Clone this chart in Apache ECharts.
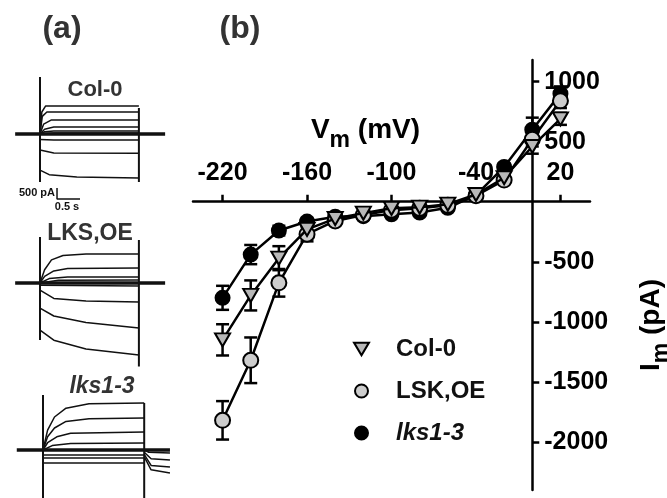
<!DOCTYPE html>
<html><head><meta charset="utf-8">
<script src="https://cdn.jsdelivr.net/npm/echarts@6/dist/echarts.min.js"></script>
<style>html,body{margin:0;padding:0;background:#fff}#c{width:667px;height:498px}</style>
</head><body><div id="c"></div>
<script>
// ---------- panel (b): I-V data ----------
const voltages = [-220,-200,-180,-160,-140,-120,-100,-80,-60,-40,-20,0,20];
const col0 =    [-1150,-780,-470,-230,-140,-95,-55,-45,-20,60,200,460,690];
const col0Err = [130,125,100,60,50,20,20,20,20,20,30,60,50];
const lskOE =   [-1820,-1320,-675,-270,-160,-110,-70,-55,-30,50,180,520,840];
const lskOEErr =[160,190,115,60,30,20,20,20,20,20,30,60,60];
const lks13 =   [-800,-440,-240,-165,-125,-120,-105,-90,-50,55,290,600,900];
const lks13Err =[100,80,40,30,20,20,20,20,20,20,30,100,60];
const xTicks = [-220,-160,-100,-40,20];
const yTicks = [-2000,-1500,-1000,-500,500,1000];

// ---------- panel (a): current traces [time s, current pA] ----------
const col0Traces = [
  [[0,0],[0.04,1000],[0.12,1270],[2.15,1270]],
  [[0,0],[0.05,800],[0.15,1000],[2.15,1000]],
  [[0,0],[0.08,450],[0.25,640],[2.15,640]],
  [[0,0],[0.1,220],[0.3,320],[2.15,320]],
  [[0,0],[0.1,100],[0.3,136],[2.15,136]],
  [[0,0],[0.3,45],[2.15,45]],
  [[0,-250],[0.3,-270],[2.15,-270]],
  [[0,-730],[0.3,-860],[2.15,-880]],
  [[0,-1640],[0.2,-1850],[0.8,-1950],[2.15,-2000]]
];
const col0Artifacts = [[[0,2590],[0,-2180]],[[2.15,1180],[2.15,-2180]]];
const col0Baseline = [[-0.54,0],[2.72,0]];
const scaleBar = [[0.37,-2455],[0.37,-2955],[0.87,-2955]];

const lskOETraces = [
  [[0,0],[0.1,600],[0.25,1050],[0.5,1250],[1.0,1320],[2.15,1320]],
  [[0,0],[0.1,300],[0.3,550],[0.6,660],[2.15,680]],
  [[0,0],[0.2,200],[0.6,270],[2.15,270]],
  [[0,0],[0.4,120],[2.15,136]],
  [[0,-100],[2.15,-136]],
  [[0,-320],[0.3,-700],[1.0,-820],[2.15,-860]],
  [[0,-1140],[0.3,-1500],[1.0,-1800],[2.15,-2045]],
  [[0,-2140],[0.3,-2600],[1.0,-3000],[2.15,-3270]]
];
const lskOEArtifacts = [[[0,2090],[0,-2590]],[[2.15,1950],[2.15,-3800]]];
const lskOEBaseline = [[-0.54,0],[2.72,0]];

const lks13Traces = [
  [[0,0],[0.1,900],[0.25,1500],[0.5,1900],[1.0,2100],[2.2,2140]],
  [[0,0],[0.1,600],[0.25,1000],[0.5,1300],[1.0,1420],[2.2,1450]],
  [[0,0],[0.1,330],[0.3,600],[0.6,760],[2.2,820]],
  [[0,0],[0.2,200],[0.6,300],[2.2,320]],
  [[0,-230],[2.2,-230]],
  [[0,-360],[2.2,-360]],
  [[0,-590],[2.2,-590]],
  [[2.2,0],[2.3,-100],[2.76,-140]],
  [[2.2,-100],[2.35,-400],[2.76,-450]],
  [[2.2,-200],[2.35,-700],[2.76,-770]],
  [[2.2,-300],[2.35,-900],[2.76,-1050]]
];
const lks13Artifacts = [[[0,2500],[0,-2180]],[[2.2,2140],[2.2,-2180]]];
const lks13Baseline = [[-0.57,0],[2.76,0]];

// ---------- layout ----------
const FONT = "'Liberation Sans', Arial, sans-serif";
const PX_S = 46, PX_PA = 0.022;
const subs = [
  {x0:40, y0:134, tMin:-0.65, tMax:2.9, iMin:-3100, iMax:2700, traces:col0Traces, art:col0Artifacts, base:col0Baseline, extra:scaleBar},
  {x0:40, y0:283, tMin:-0.65, tMax:2.9, iMin:-3900, iMax:2200, traces:lskOETraces, art:lskOEArtifacts, base:lskOEBaseline},
  {x0:43, y0:450, tMin:-0.65, tMax:2.9, iMin:-2300, iMax:2600, traces:lks13Traces, art:lks13Artifacts, base:lks13Baseline}
];

const G = {left:193, top:60, width:397, height:430};
const X_MIN = -241, X_MAX = 41, Y_MIN = -2400, Y_MAX = 1180;
const xZeroOffset = -(Y_MAX / (Y_MAX - Y_MIN)) * G.height;
const yZeroOffset = -(X_MAX / (X_MAX - X_MIN)) * G.width;

const grids = [Object.assign({outerBoundsMode:'none', containLabel:false}, G)];
const xAxes = [{
  gridIndex:0, type:'value', min:X_MIN, max:X_MAX, position:'top', offset:xZeroOffset,
  axisLine:{onZero:false, lineStyle:{color:'#000', width:2.5}},
  axisTick:{customValues:xTicks, length:7, lineStyle:{color:'#000', width:2.5}},
  axisLabel:{customValues:xTicks, margin:16, fontSize:25, fontWeight:'bold', color:'#000', fontFamily:FONT,
             formatter:v=>String(v)},
  splitLine:{show:false},
  name:'{v|V}{s|m}{v| (mV)}', nameLocation:'middle', nameGap:50,
  nameTextStyle:{padding:[0,52,0,0], rich:{
    v:{fontSize:28, fontWeight:'bold', color:'#000', fontFamily:FONT},
    s:{fontSize:23, fontWeight:'bold', color:'#000', fontFamily:FONT, padding:[20,0,0,0]}}}
}];
const yAxes = [{
  gridIndex:0, type:'value', min:Y_MIN, max:Y_MAX, position:'right', offset:yZeroOffset,
  axisLine:{onZero:false, lineStyle:{color:'#000', width:2.5}},
  axisTick:{customValues:yTicks, length:7, lineStyle:{color:'#000', width:2.5}},
  axisLabel:{customValues:yTicks, margin:12, fontSize:25, fontWeight:'bold', color:'#000', fontFamily:FONT,
             formatter:v=>String(v)},
  splitLine:{show:false},
  name:'{v|I}{s|m}{v| (pA)}', nameLocation:'middle', nameGap:98, nameRotate:90,
  nameTextStyle:{padding:[0,100,0,0], rich:{
    v:{fontSize:28, fontWeight:'bold', color:'#000', fontFamily:FONT},
    s:{fontSize:23, fontWeight:'bold', color:'#000', fontFamily:FONT, padding:[20,0,0,0]}}}
}];

const series = [];
subs.forEach((s, k) => {
  const gi = k + 1;
  grids.push({left:s.x0 + s.tMin*PX_S, width:(s.tMax - s.tMin)*PX_S,
              top:s.y0 - s.iMax*PX_PA, height:(s.iMax - s.iMin)*PX_PA,
              outerBoundsMode:'none', containLabel:false});
  xAxes.push({gridIndex:gi, type:'value', min:s.tMin, max:s.tMax, show:false});
  yAxes.push({gridIndex:gi, type:'value', min:s.iMin, max:s.iMax, show:false});
  const ln = (data, w) => ({type:'line', xAxisIndex:gi, yAxisIndex:gi, data, showSymbol:false,
    symbol:'none', lineStyle:{color:'#111', width:w}, silent:true, z:2});
  s.traces.forEach(t => series.push(ln(t, 1.5)));
  s.art.forEach(t => series.push(ln(t, 2)));
  series.push(ln(s.base, 3.5));
  if (s.extra) series.push(ln(s.extra, 1.5));
});

const triPath = 'path://M0,0L20,0L10,17Z';
function errData(vals, errs){ return voltages.map((v,i)=>[v, vals[i], errs[i]]); }
function errSeries(vals, errs){
  return {type:'custom', xAxisIndex:0, yAxisIndex:0, z:3, silent:true,
    data: errData(vals, errs),
    renderItem:(params, api)=>{
      const x = api.value(0), y = api.value(1), e = api.value(2);
      const top = api.coord([x, y+e]), bot = api.coord([x, y-e]);
      const st = {stroke:'#000', lineWidth:2.5};
      const hw = 6.5;
      return {type:'group', children:[
        {type:'line', shape:{x1:top[0], y1:top[1], x2:bot[0], y2:bot[1]}, style:st},
        {type:'line', shape:{x1:top[0]-hw, y1:top[1], x2:top[0]+hw, y2:top[1]}, style:st},
        {type:'line', shape:{x1:bot[0]-hw, y1:bot[1], x2:bot[0]+hw, y2:bot[1]}, style:st}
      ]};
    }};
}
series.push(errSeries(lks13, lks13Err), errSeries(lskOE, lskOEErr), errSeries(col0, col0Err));
const ivLine = (name, vals, symbol, size, fill, z) => ({
  type:'line', name, xAxisIndex:0, yAxisIndex:0, z,
  data: voltages.map((v,i)=>[v, vals[i]]),
  symbol, symbolSize:size, showAllSymbol:true,
  lineStyle:{color:'#000', width:2.5},
  itemStyle:{color:fill, borderColor:'#000', borderWidth:2, opacity:1}
});
series.push(ivLine('lks1-3', lks13, 'circle', 14, '#000', 4));
series.push(ivLine('LSK,OE', lskOE, 'circle', 15, '#cdcdcd', 5));
series.push(ivLine('Col-0', col0, triPath, [15,13], '#b8b8b8', 6));

const txt = (text, x, y, size, opts={}) => ({type:'text', x, y, silent:true, style:Object.assign({
  text, fontSize:size, fontWeight:'bold', fontFamily:FONT, fill:'#333', align:'center', verticalAlign:'middle'}, opts)});

const option = {
  animation:false,
  backgroundColor:'#fff',
  grid: grids, xAxis: xAxes, yAxis: yAxes, series,
  legend:{
    orient:'vertical', left:348, top:332, itemWidth:15, itemHeight:13, itemGap:18,
    itemStyle:{borderColor:'#000', borderWidth:2},
    textStyle:{fontSize:24, lineHeight:24, fontWeight:'bold', color:'#111', fontFamily:FONT, padding:[0,0,0,22]},
    data:[
      {name:'Col-0', icon:triPath},
      {name:'LSK,OE', icon:'circle'},
      {name:'lks1-3', icon:'circle', textStyle:{fontStyle:'italic'}}
    ]
  },
  graphic:[
    txt('(a)', 62, 29, 32),
    txt('(b)', 240, 29, 32),
    txt('Col-0', 95, 90, 22),
    txt('LKS,OE', 90, 234, 23),
    txt('lks1-3', 102, 387, 23, {fontStyle:'italic'}),
    txt('500 pA', 55, 193, 11, {align:'right', fill:'#111'}),
    txt('0.5 s', 67, 207, 11, {fill:'#111'})
  ]
};
echarts.init(document.getElementById('c'), null, {renderer:'canvas'}).setOption(option);
</script></body></html>
